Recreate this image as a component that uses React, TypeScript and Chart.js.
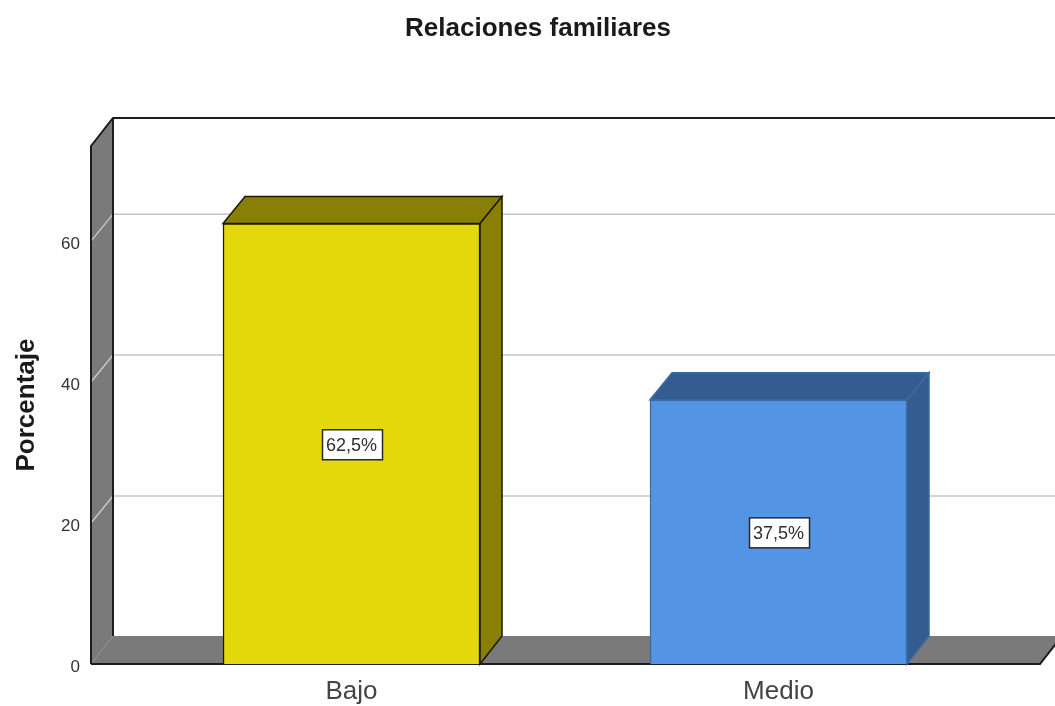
import React, { useEffect, useRef } from "react";
import { Chart, registerables } from "chart.js";

Chart.register(...registerables);

const chartTitle = "Relaciones familiares";
const yAxisTitle = "Porcentaje";
const categories = ["Bajo", "Medio"];
const percentages = [62.5, 37.5];
const valueLabels = ["62,5%", "37,5%"];
const yTicks = [0, 20, 40, 60];
const frontColors = ["#e3d80c", "#5494e4"];
const sideColors = ["#8a7f06", "#345c90"];
const edgeColors = ["#1a1a00", "#3a6aa0"];

const DX = 22;
const DY = -28;
const DY_INNER = -27;
const FLOOR_RIGHT = 1040;
const FONT = "'Liberation Sans', Arial, sans-serif";

function poly(ctx: CanvasRenderingContext2D, pts: number[][], fill?: string, stroke?: string, lw = 1.5) {
  ctx.beginPath();
  pts.forEach((p, i) => (i ? ctx.lineTo(p[0], p[1]) : ctx.moveTo(p[0], p[1])));
  ctx.closePath();
  if (fill) {
    ctx.fillStyle = fill;
    ctx.fill();
  }
  if (stroke) {
    ctx.strokeStyle = stroke;
    ctx.lineWidth = lw;
    ctx.stroke();
  }
}

function line(ctx: CanvasRenderingContext2D, pts: number[][], stroke: string, lw = 1.5) {
  ctx.beginPath();
  pts.forEach((p, i) => (i ? ctx.lineTo(p[0], p[1]) : ctx.moveTo(p[0], p[1])));
  ctx.strokeStyle = stroke;
  ctx.lineWidth = lw;
  ctx.stroke();
}

const box3d = {
  id: "box3d",
  beforeDatasetsDraw(chart: any) {
    const { ctx, chartArea, scales } = chart;
    const l = chartArea.left;
    const t = chartArea.top;
    const b = chartArea.bottom;
    const r = chartArea.right;
    ctx.save();
    // walls and floor
    poly(ctx, [[l, t], [l + DX, t + DY], [l + DX, b + DY], [l, b]], "#7a7a7a");
    poly(ctx, [[l, b], [l + DX, b + DY], [FLOOR_RIGHT + DX, b + DY], [FLOOR_RIGHT, b]], "#7a7a7a");
    // grid lines
    yTicks.slice(1).forEach((v) => {
      const y = scales.y.getPixelForValue(v);
      line(ctx, [[l, y], [l + DX, y + DY_INNER], [r, y + DY_INNER]], "#c6c6c6", 1.5);
    });
    // outlines
    line(ctx, [[l, b], [l, t], [l + DX, t + DY], [r, t + DY]], "#1c1c1c", 2);
    line(ctx, [[l + DX, t + DY], [l + DX, b + DY]], "#1c1c1c", 2);
    line(ctx, [[l, b], [FLOOR_RIGHT, b], [FLOOR_RIGHT + DX, b + DY]], "#1c1c1c", 2);
    // bar depth faces
    chart.getDatasetMeta(0).data.forEach((bar: any, i: number) => {
      const x0 = bar.x - bar.width / 2;
      const x1 = bar.x + bar.width / 2;
      const y0 = bar.y;
      const y1 = bar.base;
      poly(ctx, [[x0, y0], [x0 + DX, y0 + DY_INNER], [x1 + DX, y0 + DY_INNER], [x1, y0]], sideColors[i], edgeColors[i]);
      poly(ctx, [[x1, y0], [x1 + DX, y0 + DY_INNER], [x1 + DX, y1 + DY], [x1, y1]], sideColors[i], edgeColors[i]);
    });
    ctx.restore();
  },
  afterDatasetsDraw(chart: any) {
    const { ctx } = chart;
    ctx.save();
    ctx.textAlign = "center";
    ctx.textBaseline = "middle";
    chart.getDatasetMeta(0).data.forEach((bar: any, i: number) => {
      const cx = bar.x + 1;
      const cy = (bar.y + bar.base) / 2 + 1;
      const w = 60;
      const h = 30;
      ctx.fillStyle = "#ffffff";
      ctx.fillRect(cx - w / 2, cy - h / 2, w, h);
      ctx.strokeStyle = "#2a2a2a";
      ctx.lineWidth = 1.5;
      ctx.strokeRect(cx - w / 2, cy - h / 2, w, h);
      ctx.font = `18px ${FONT}`;
      ctx.fillStyle = "#2f2f2f";
      ctx.fillText(valueLabels[i], cx - 1, cy + 1);
    });
    ctx.restore();
  },
};

export default function App() {
  const ref = useRef<HTMLCanvasElement>(null);
  useEffect(() => {
    document.body.style.margin = "0";
    const chart = new Chart(ref.current as HTMLCanvasElement, {
      type: "bar",
      data: {
        datasets: [
          {
            data: categories.map((_, i) => ({ x: i, y: percentages[i] })) as any,
            backgroundColor: frontColors,
            borderColor: edgeColors,
            borderWidth: 1.5,
            barThickness: 257,
          },
        ],
      },
      options: {
        responsive: false,
        animation: false,
        layout: { padding: { left: 21, right: 0, top: 0, bottom: 0 } },
        plugins: {
          legend: { display: false },
          tooltip: { enabled: false },
          title: {
            display: true,
            text: chartTitle,
            color: "#1a1a1a",
            font: { family: FONT, size: 26, weight: "bold", lineHeight: 1.2 },
            padding: { top: 13.5, bottom: 101.3 },
          },
        },
        scales: {
          x: {
            type: "linear",
            offset: false,
            min: -0.6101,
            max: 1.6475,
            grid: { display: false },
            border: { display: false },
            afterBuildTicks: (s: any) => {
              s.ticks = categories.map((_, i) => ({ value: i }));
            },
            afterFit: (s: any) => {
              s.height = 42;
            },
            ticks: {
              autoSkip: false,
              maxRotation: 0,
              padding: 4,
              color: "#444444",
              font: { family: FONT, size: 26 },
              callback: (v: any) => categories[v],
            },
          },
          y: {
            min: 0,
            max: 73.5,
            grid: { display: false },
            border: { display: false },
            afterBuildTicks: (s: any) => {
              s.ticks = yTicks.map((value) => ({ value }));
            },
            afterFit: (s: any) => {
              s.width = 70;
            },
            title: {
              display: true,
              text: yAxisTitle,
              color: "#1a1a1a",
              font: { family: FONT, size: 26, weight: "bold", lineHeight: 1.1 },
              padding: { top: -8, bottom: 0 },
            },
            ticks: {
              padding: 3,
              color: "#333333",
              font: { family: FONT, size: 17, lineHeight: "7px" },
              callback: (v: any) => ["", String(v)],
            },
          },
        },
      },
      plugins: [box3d],
    } as any);
    return () => chart.destroy();
  }, []);
  return <canvas ref={ref} width={1055} height={706} style={{ display: "block", filter: "blur(0.4px)" }} />;
}
